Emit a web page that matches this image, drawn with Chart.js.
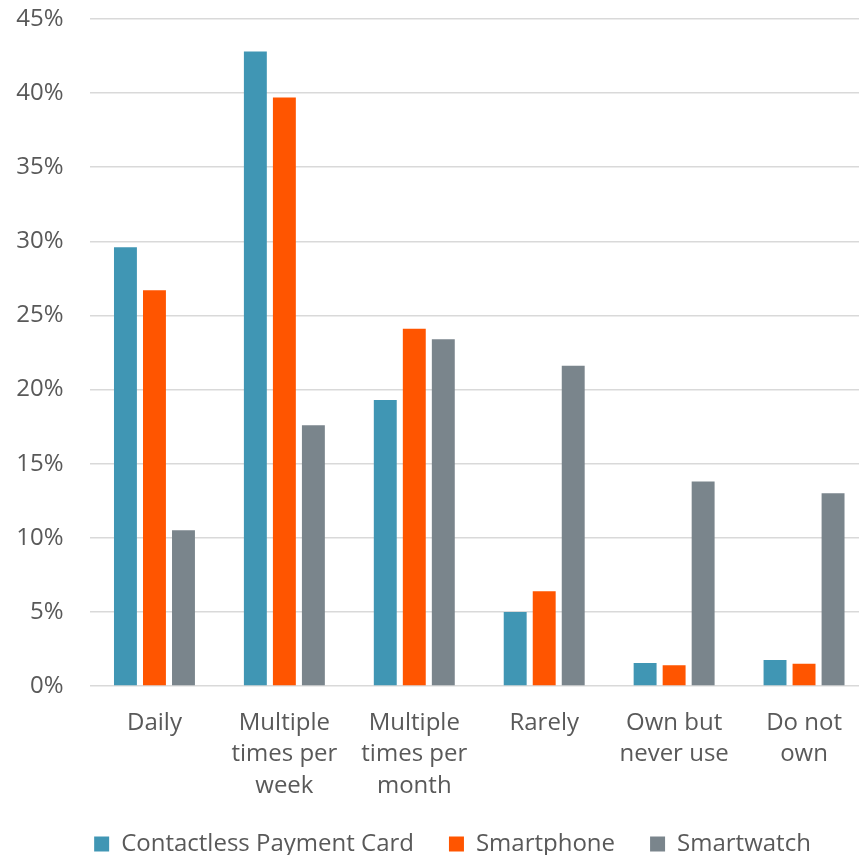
<!DOCTYPE html>
<html>
<head>
<meta charset="utf-8">
<script src="https://cdn.jsdelivr.net/npm/chart.js@4/dist/chart.umd.min.js"></script>
<style>
  html, body { margin: 0; padding: 0; background: #fff; overflow: hidden; }
  #wrap { width: 859px; height: 855px; overflow: hidden; }
  #box { width: 905px; height: 855px; }
</style>
</head>
<body>
<div id="wrap"><div id="box"><canvas id="myChart"></canvas></div></div>
<script>
const categories = [
    'Daily',
    ['Multiple', 'times per', 'week'],
    ['Multiple', 'times per', 'month'],
    'Rarely',
    ['Own but', 'never use'],
    ['Do not', 'own']
];
const contactless = [29.6, 42.8, 19.3, 5.0, 1.55, 1.75];
const smartphone = [26.7, 39.7, 24.1, 6.4, 1.4, 1.5];
const smartwatch = [10.5, 17.6, 23.4, 21.6, 13.8, 13.0];

const textColor = '#595959';
const fontFamily = '"Open Sans", sans-serif';

document.addEventListener('DOMContentLoaded', function () {
    const ctx = document.getElementById('myChart').getContext('2d');
    new Chart(ctx, {
        type: 'bar',
        data: {
            labels: categories,
            datasets: [{
                label: 'Contactless Payment Card',
                data: contactless,
                backgroundColor: '#4096b4'
            }, {
                label: 'Smartphone',
                data: smartphone,
                backgroundColor: '#ff5500'
            }, {
                label: 'Smartwatch',
                data: smartwatch,
                backgroundColor: '#7a858c'
            }]
        },
        options: {
            responsive: true,
            maintainAspectRatio: false,
            animation: false,
            datasets: {
                bar: { barPercentage: 0.79, categoryPercentage: 0.67 }
            },
            layout: { padding: { top: 19, left: 0, right: 0, bottom: -11 } },
            plugins: {
                tooltip: { enabled: false },
                legend: {
                    position: 'bottom',
                    labels: {
                        boxWidth: 15,
                        boxHeight: 15,
                        padding: 35,
                        color: textColor,
                        font: { family: fontFamily, size: 24 }
                    }
                }
            },
            scales: {
                x: {
                    grid: { display: false },
                    border: { display: false },
                    ticks: {
                        color: textColor,
                        padding: 13,
                        maxRotation: 0,
                        autoSkip: false,
                        font: { family: fontFamily, size: 24, lineHeight: 1.32 }
                    },
                    afterFit: function (scale) { scale.height = 111; }
                },
                y: {
                    min: 0,
                    max: 45,
                    border: { display: false },
                    grid: { color: '#d9d9d9', lineWidth: 1.5, drawTicks: false },
                    ticks: {
                        stepSize: 5,
                        color: textColor,
                        padding: 26,
                        font: { family: fontFamily, size: 24 },
                        callback: function (v) { return v + '%'; }
                    },
                    afterFit: function (scale) {
                        scale.width = 89.5;
                        scale.paddingTop = 0;
                        scale.paddingBottom = 0;
                    }
                },
                // empty right-hand gutter, keeps the legend centred wider than the plot
                gutter: {
                    type: 'linear',
                    position: 'right',
                    grid: { display: false },
                    border: { display: false },
                    ticks: { display: false },
                    afterFit: function (scale) { scale.width = 36; }
                }
            }
        }
    });
});
</script>
</body>
</html>
